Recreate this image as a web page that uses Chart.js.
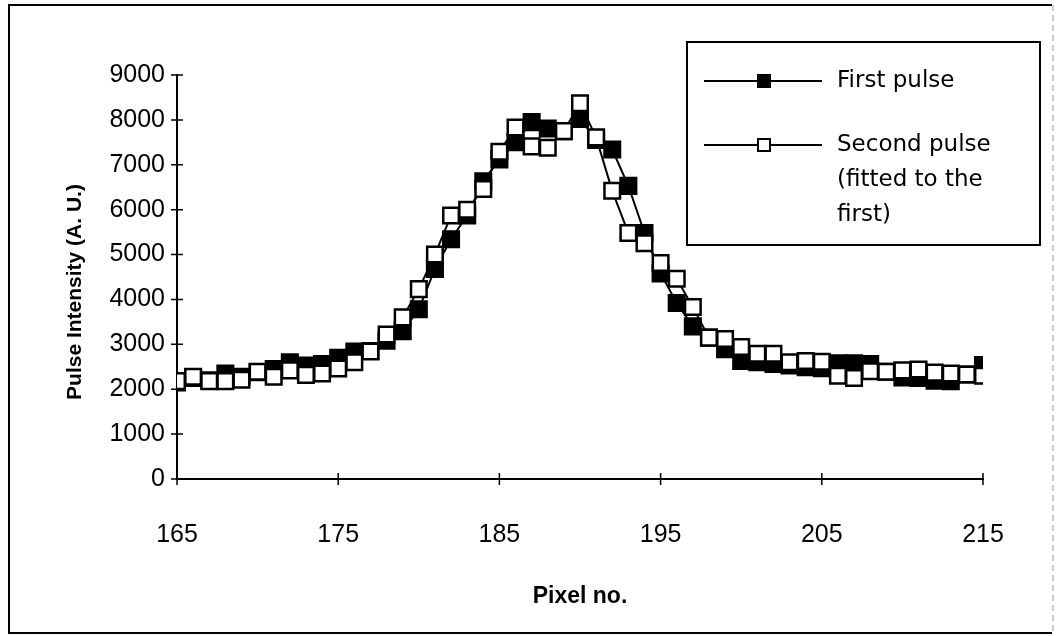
<!DOCTYPE html>
<html><head><meta charset="utf-8">
<style>html,body{margin:0;padding:0;background:#fff;}#wrap{width:1056px;height:636px;position:relative;}</style>
<script src="https://cdn.jsdelivr.net/npm/chart.js@4.4.1/dist/chart.umd.min.js"></script>
</head><body><div id="wrap"><canvas id="c" width="1056" height="636"></canvas></div>
<script>
const pixels = [165,166,167,168,169,170,171,172,173,174,175,176,177,178,179,180,181,182,183,184,185,186,187,188,189,190,191,192,193,194,195,196,197,198,199,200,201,202,203,204,205,206,207,208,209,210,211,212,213,214,215];
const firstPulse = [2150,2250,2200,2350,2280,2380,2450,2600,2530,2560,2700,2840,2850,3080,3290,3780,4680,5340,5870,6630,7120,7500,7950,7810,7750,8020,7550,7340,6530,5480,4580,3920,3400,3150,2890,2630,2600,2560,2530,2490,2470,2580,2580,2560,2390,2260,2250,2190,2180,2330,2540];
const secondPulse = [2180,2280,2180,2180,2210,2390,2280,2420,2320,2350,2460,2600,2840,3220,3600,4230,5000,5870,6000,6460,7290,7830,7410,7380,7750,8370,7610,6420,5480,5250,4810,4460,3830,3150,3120,2940,2790,2790,2600,2630,2610,2300,2250,2400,2390,2420,2440,2370,2350,2330,2300];
const xTickValues = [165,175,185,195,205,215];
const yTickValues = [0,1000,2000,3000,4000,5000,6000,7000,8000,9000];
const firstLabel = ['First pulse'];
const secondLabel = ['Second pulse','(fitted to the','first)'];
const xTitle = 'Pixel no.';
const yTitle = 'Pulse Intensity (A. U.)';

const FONT = "'Liberation Sans', Arial, sans-serif";
const LFONT = "'DejaVu Sans', sans-serif";

const framePlugin = {
  id: 'frame',
  beforeDraw(chart) {
    const ctx = chart.ctx;
    ctx.save();
    ctx.fillStyle = '#fff';
    ctx.fillRect(0, 0, chart.width, chart.height);
    ctx.strokeStyle = '#000';
    ctx.lineWidth = 2;
    ctx.beginPath();
    ctx.moveTo(1052, 5); ctx.lineTo(9, 5); ctx.lineTo(9, 633); ctx.lineTo(1052, 633);
    ctx.stroke();
    ctx.strokeStyle = '#999';
    ctx.lineWidth = 1;
    ctx.setLineDash([6, 4]);
    ctx.beginPath(); ctx.moveTo(1053, 5); ctx.lineTo(1053, 633); ctx.stroke();
    ctx.restore();
  }
};

const tickPlugin = {
  id: 'crossTicks',
  afterDatasetsDraw(chart) {
    const ctx = chart.ctx;
    const xs = chart.scales.x, ys = chart.scales.y;
    const ax = xs.getPixelForValue(165), ay = ys.getPixelForValue(0);
    ctx.save();
    ctx.strokeStyle = '#000';
    ctx.lineWidth = 1.5;
    ctx.beginPath();
    yTickValues.forEach(v => { const p = ys.getPixelForValue(v); ctx.moveTo(ax - 6, p); ctx.lineTo(ax + 6, p); });
    xTickValues.forEach(v => { const p = xs.getPixelForValue(v); ctx.moveTo(p, ay - 6); ctx.lineTo(p, ay + 6); });
    ctx.stroke();
    ctx.translate(75, 292);
    ctx.rotate(-Math.PI / 2);
    ctx.fillStyle = '#000';
    ctx.font = "bold 21px " + FONT;
    ctx.textAlign = 'center';
    ctx.textBaseline = 'middle';
    ctx.fillText(yTitle, 0, 0);
    ctx.restore();
  }
};

const legendPlugin = {
  id: 'boxLegend',
  afterDraw(chart) {
    const ctx = chart.ctx;
    ctx.save();
    ctx.strokeStyle = '#000';
    ctx.lineWidth = 2;
    ctx.strokeRect(687, 42, 353, 203);
    const entries = [
      {ds: chart.data.datasets[0], y: 81, lines: firstLabel},
      {ds: chart.data.datasets[1], y: 145, lines: secondLabel}
    ];
    entries.forEach(e => {
      ctx.strokeStyle = '#000';
      ctx.lineWidth = 2;
      ctx.beginPath(); ctx.moveTo(704, e.y); ctx.lineTo(822, e.y); ctx.stroke();
      ctx.fillStyle = e.ds.pointBackgroundColor;
      ctx.fillRect(764 - 6, e.y - 6, 12, 12);
      ctx.strokeRect(764 - 6, e.y - 6, 12, 12);
      ctx.fillStyle = '#000';
      ctx.font = "23px " + LFONT;
      ctx.textBaseline = 'middle';
      ctx.textAlign = 'left';
      e.lines.forEach((t, i) => ctx.fillText(t, 837, e.y + i * 35));
    });
    ctx.restore();
  }
};

new Chart(document.getElementById('c'), {
  type: 'line',
  data: {
    labels: pixels,
    datasets: [
      {
        label: firstLabel.join(' '),
        data: pixels.map((p, i) => ({x: p, y: firstPulse[i]})),
        borderColor: '#000', borderWidth: 2,
        pointStyle: 'rect', pointRadius: 11, pointBorderWidth: 2.5,
        pointBackgroundColor: '#000', pointBorderColor: '#000',
        tension: 0, order: 2
      },
      {
        label: secondLabel.join(' '),
        data: pixels.map((p, i) => ({x: p, y: secondPulse[i]})),
        borderColor: '#000', borderWidth: 2,
        pointStyle: 'rect', pointRadius: 11, pointBorderWidth: 2.5,
        pointBackgroundColor: '#fff', pointBorderColor: '#000',
        tension: 0, order: 1
      }
    ]
  },
  options: {
    responsive: false,
    animation: false,
    devicePixelRatio: 1,
    layout: {padding: {left: 0, top: 75, right: 73, bottom: 0}},
    plugins: {legend: {display: false}, tooltip: {enabled: false}},
    scales: {
      x: {
        type: 'linear', min: 165, max: 215,
        afterBuildTicks: s => { s.ticks = xTickValues.map(v => ({value: v})); },
        afterFit: s => { s.height = 157; },
        grid: {display: false, drawTicks: false},
        border: {display: true, color: '#000', width: 2},
        ticks: {color: '#000', padding: 41, font: {family: FONT, size: 25}, maxRotation: 0},
        title: {display: true, text: xTitle, color: '#000', font: {family: FONT, size: 23, weight: 'bold'}, padding: {top: 0, bottom: 26}}
      },
      y: {
        min: 0, max: 9000,
        afterBuildTicks: s => { s.ticks = yTickValues.map(v => ({value: v})); },
        afterFit: s => { s.width = 177; },
        grid: {display: false, drawTicks: false},
        border: {display: true, color: '#000', width: 2},
        ticks: {color: '#000', padding: 12, font: {family: FONT, size: 25}, callback: v => String(v)},
        title: {display: false, text: yTitle}
      }
    }
  },
  plugins: [framePlugin, tickPlugin, legendPlugin]
});
</script></body></html>
